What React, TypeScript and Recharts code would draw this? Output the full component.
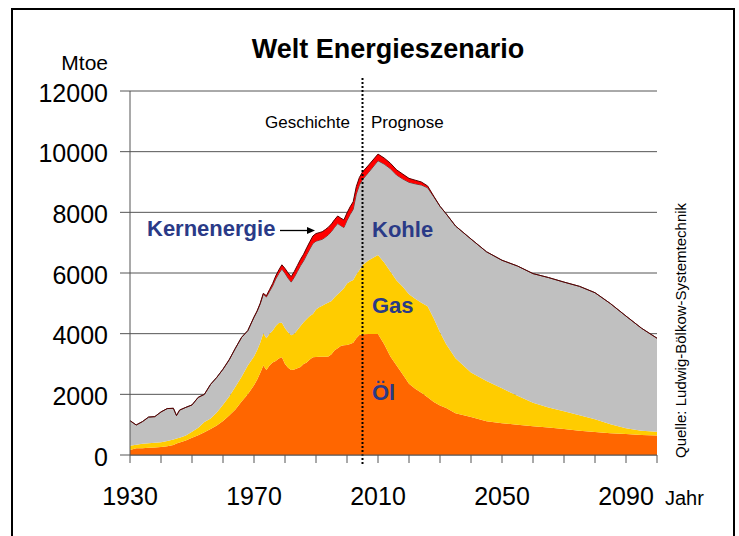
import React from 'react';
import { AreaChart, Area, XAxis, YAxis, CartesianGrid, ReferenceLine } from 'recharts';

// Welt Energieszenario (Mtoe)
const years = [
  1930, 1932, 1934, 1936, 1938, 1940, 1942, 1944, 1945, 1946,
  1948, 1950, 1952, 1954, 1956, 1958, 1960, 1962, 1964, 1966, 1968,
  1970, 1971, 1972, 1973, 1974, 1975, 1976, 1977, 1978, 1979,
  1980, 1981, 1982, 1983, 1984, 1985, 1986, 1987, 1988, 1989,
  1990, 1991, 1992, 1993, 1994, 1995, 1996, 1997, 1998, 1999,
  2000, 2001, 2002, 2003, 2004, 2005, 2007, 2010,
  2012, 2014, 2016, 2018, 2020, 2022, 2024, 2026, 2028, 2030, 2032,
  2035, 2040, 2045, 2050, 2055, 2060, 2065, 2070, 2075, 2080, 2085, 2090, 2095, 2100,
];

const oel = [
  165, 220, 225, 235, 250, 265, 290, 330, 380, 410,
  480, 570, 650, 750, 860, 970, 1120, 1300, 1500, 1760, 2000,
  2300, 2480, 2700, 2950, 2800, 2950, 3050, 3100, 3180, 3220,
  3000, 2880, 2800, 2820, 2860, 2900, 3000, 3050, 3150, 3220,
  3230, 3240, 3240, 3240, 3250, 3320, 3450, 3520, 3590, 3620,
  3630, 3660, 3700, 3850, 3960, 3980, 3990, 3990,
  3650, 3250, 2950, 2650, 2350, 2180, 2050, 1900, 1750, 1630, 1550,
  1380, 1250, 1110, 1050, 1000, 950, 910, 860, 800, 760, 720, 690, 660, 640,
];

const gas = [
  142, 120, 145, 155, 155, 155, 170, 180, 160, 160,
  160, 200, 250, 340, 340, 430, 540, 630, 750, 820, 950,
  950, 970, 1000, 1060, 1050, 1050, 1050, 1150, 1170, 1140,
  1180, 1170, 1150, 1180, 1260, 1350, 1380, 1430, 1430, 1430,
  1570, 1630, 1680, 1740, 1780, 1760, 1750, 1780, 1800, 1880,
  2020, 2060, 2070, 2100, 2140, 2280, 2430, 2600,
  2700, 2800, 2800, 2900, 2950, 2970, 2970, 3000, 2750, 2420, 2100,
  1810, 1470, 1330, 1150, 950, 770, 660, 580, 510, 420, 290, 190, 140, 130,
];

const kohle = [
  825, 650, 730, 860, 860, 1000, 1070, 1030, 760, 910,
  930, 880, 1000, 910, 1130, 1160, 1170, 1210, 1270, 1300, 1150,
  1290, 1285, 1280, 1290, 1360, 1390, 1470, 1550, 1630, 1770,
  1810, 1780, 1750, 1860, 1930, 1990, 2020, 2120, 2210, 2325,
  2250, 2210, 2190, 2200, 2230, 2290, 2310, 2330, 2170, 2000,
  2080, 2210, 2330, 2650, 2800, 2820, 2900, 3110,
  3240, 3390, 3480, 3550, 3690, 3790, 3880, 3910, 4010, 4150, 4300,
  4360, 4400, 4260, 4220, 4280, 4260, 4280, 4260, 4250, 4170, 3980, 3700, 3380, 3080,
];

const kern = [
  0, 0, 0, 0, 0, 0, 0, 0, 0, 0,
  0, 0, 0, 0, 0, 0, 0, 0, 0, 0, 0,
  10, 15, 20, 30, 40, 60, 80, 100, 120, 140,
  160, 170, 180, 190, 200, 210, 220, 230, 240, 245,
  250, 250, 250, 250, 250, 250, 250, 250, 250, 250,
  250, 250, 250, 250, 250, 250, 240, 220,
  200, 180, 170, 160, 130, 120, 100, 60, 20, 0, 0,
  0, 0, 0, 0, 0, 0, 0, 0, 0, 0, 0, 0, 0, 0,
];

const xTicks = [1930, 1940, 1950, 1960, 1970, 1980, 1990, 2000, 2010, 2020, 2030, 2040, 2050, 2060, 2070, 2080, 2090, 2100];
const xLabels = [1930, 1970, 2010, 2050, 2090];
const yTicks = [0, 2000, 4000, 6000, 8000, 10000, 12000];

const data = years.map((year, i) => ({
  year,
  oel: oel[i],
  gas: gas[i],
  kohle: kohle[i],
  kern: kern[i],
}));

const FONT = '"Liberation Sans", Arial, Helvetica, sans-serif';
const NAVY = '#2a3a87';

const XTick = (props: any) => {
  const { x, y, payload } = props;
  if (!xLabels.includes(payload.value)) return <g />;
  return (
    <text x={x} y={y} dy="0.71em" textAnchor="middle" fontSize={25} fill="#000" fontFamily={FONT}>
      {payload.value}
    </text>
  );
};

const YTick = (props: any) => {
  const { x, y, payload } = props;
  return (
    <text x={x} y={y} dy="0.43em" textAnchor="end" fontSize={25} fill="#000" fontFamily={FONT}>
      {payload.value}
    </text>
  );
};

export default function App() {
  return (
    <div
      style={{
        position: 'absolute',
        left: 0,
        top: 0,
        width: 739,
        height: 536,
        background: '#fff',
        overflow: 'hidden',
        fontFamily: FONT,
      }}
    >
      <div
        style={{
          position: 'absolute',
          left: 11,
          top: 8,
          width: 720,
          height: 560,
          border: '2px solid #000',
        }}
      />
      <div style={{ position: 'absolute', left: 0, top: 0 }}>
        <AreaChart width={739} height={536} data={data} margin={{ top: 91, right: 82, bottom: 41, left: 0 }}>
          <CartesianGrid horizontal vertical={false} stroke="#555" strokeWidth={1} />
          <XAxis
            dataKey="year"
            type="number"
            domain={[1930, 2100]}
            ticks={xTicks}
            interval={0}
            height={40}
            tickSize={8}
            tickMargin={24}
            tick={<XTick />}
            axisLine={{ stroke: '#555' }}
            tickLine={{ stroke: '#555' }}
          />
          <YAxis
            type="number"
            domain={[0, 12000]}
            ticks={yTicks}
            interval={0}
            width={130}
            tickSize={10}
            tickMargin={12}
            tick={<YTick />}
            axisLine={{ stroke: '#555' }}
            tickLine={{ stroke: '#555' }}
          />
          <Area type="linear" dataKey="oel" stackId="1" stroke="none" fill="#ff6600" fillOpacity={1} isAnimationActive={false} />
          <Area type="linear" dataKey="gas" stackId="1" stroke="none" fill="#ffcc00" fillOpacity={1} isAnimationActive={false} />
          <Area type="linear" dataKey="kohle" stackId="1" stroke="#5a4a4a" strokeWidth={1} fill="#c0c0c0" fillOpacity={1} isAnimationActive={false} />
          <Area type="linear" dataKey="kern" stackId="1" stroke="#5a0000" strokeWidth={1} fill="#ff0000" fillOpacity={1} isAnimationActive={false} />
          <ReferenceLine
            segment={[{ x: 2005, y: -300 }, { x: 2005, y: 12450 }]}
            ifOverflow="visible"
            stroke="#000"
            strokeWidth={2}
            strokeDasharray="2 2"
          />
        </AreaChart>
      </div>
      <svg width={739} height={536} style={{ position: 'absolute', left: 0, top: 0, pointerEvents: 'none' }}>
        <text x={388} y={58} textAnchor="middle" fontSize={27} fontWeight="bold" fill="#000" fontFamily={FONT}>
          Welt Energieszenario
        </text>
        <text x={108} y={70} textAnchor="end" fontSize={21} fill="#000" fontFamily={FONT}>
          Mtoe
        </text>
        <text x={350} y={128} textAnchor="end" fontSize={17} fill="#000" fontFamily={FONT}>
          Geschichte
        </text>
        <text x={371} y={128} fontSize={17} fill="#000" fontFamily={FONT}>
          Prognose
        </text>
        <text x={147} y={236} fontSize={22} fontWeight="bold" fill={NAVY} fontFamily={FONT}>
          Kernenergie
        </text>
        <line x1={280} y1={230.5} x2={309} y2={230.5} stroke="#000" strokeWidth={1.3} />
        <polygon points="307,227 315,230.5 307,234" fill="#000" />
        <text x={372} y={237} fontSize={22} fontWeight="bold" fill={NAVY} fontFamily={FONT}>
          Kohle
        </text>
        <text x={372} y={313} fontSize={22} fontWeight="bold" fill={NAVY} fontFamily={FONT}>
          Gas
        </text>
        <text x={372} y={400} fontSize={22} fontWeight="bold" fill={NAVY} fontFamily={FONT}>
          Öl
        </text>
        <text x={665} y={505} fontSize={20} fill="#000" fontFamily={FONT}>
          Jahr
        </text>
        <text
          x={0}
          y={0}
          transform="translate(686 458) rotate(-90)"
          fontSize={15}
          fill="#000"
          fontFamily={FONT}
        >
          Quelle: Ludwig-Bölkow-Systemtechnik
        </text>
      </svg>
    </div>
  );
}
